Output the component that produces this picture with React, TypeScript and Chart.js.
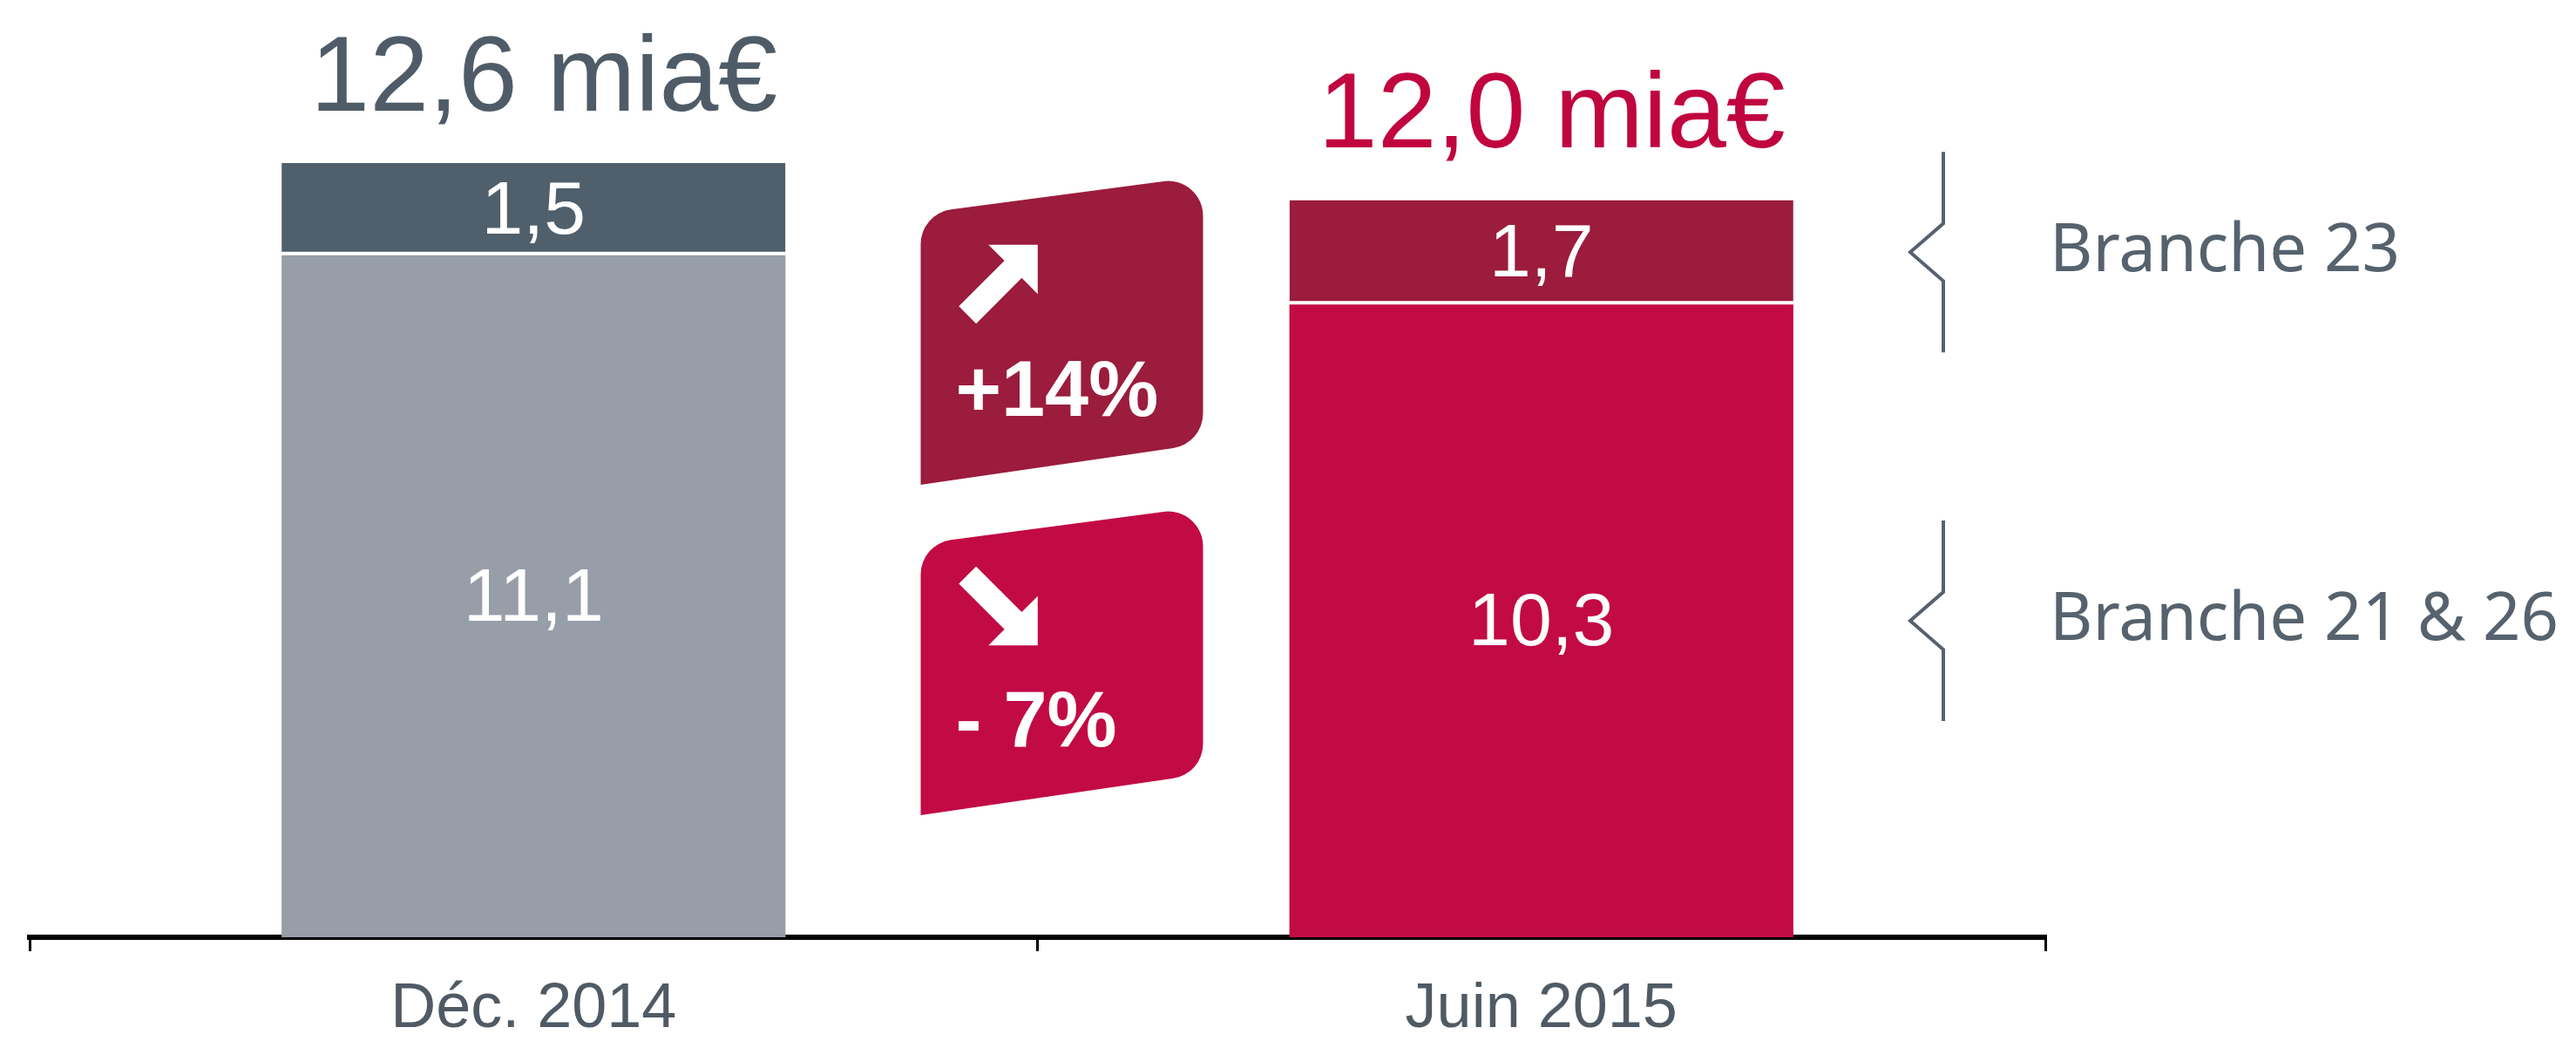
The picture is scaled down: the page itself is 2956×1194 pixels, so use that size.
import React, { useEffect, useRef } from 'react';
import { Chart, registerables } from 'chart.js';

Chart.register(...registerables);

// ---- Data ----
const categories = ['Déc. 2014', 'Juin 2015'];
const seriesLabels = ['Branche 21 & 26', 'Branche 23'];
const branche2126 = [11.1, 10.3];
const branche23 = [1.5, 1.7];
// change between the two dates: [Branche 23, Branche 21 & 26]
const changeLabels = ['+14%', '- 7%'];
const totalUnit = ' mia€';

// ---- Styles ----
const lowerColors = ['#979ea8', '#c20a45'];
const upperColors = ['#4f5f6b', '#9b1c3c'];
const totalColors = ['#4f5c68', '#c0053f'];
const badgeColors = ['#9b1c3c', '#c20a45'];
const textGray = '#4f5a64';
const legendGray = '#56626d';
const SANS = '"Liberation Sans", Arial, Helvetica, sans-serif';
const HUMANIST = '"Noto Sans", "Open Sans", sans-serif';

const fmt = (v: number) => v.toFixed(1).replace('.', ',');

function drawBadge(ctx: CanvasRenderingContext2D, cx: number, cy: number, color: string, up: boolean, text: string) {
  const w = 324;
  const x0 = cx - w / 2;
  const x1 = cx + w / 2;
  const tl = { x: x0, y: cy - 134 };
  const tr = { x: x1, y: cy - 177 };
  const br = { x: x1, y: cy + 130 };
  const bl = { x: x0, y: cy + 177 };
  const r = 40;
  ctx.save();
  ctx.fillStyle = color;
  ctx.beginPath();
  ctx.moveTo(bl.x, bl.y);
  ctx.arcTo(tl.x, tl.y, tr.x, tr.y, r);
  ctx.arcTo(tr.x, tr.y, br.x, br.y, r);
  ctx.arcTo(br.x, br.y, bl.x, bl.y, r);
  ctx.lineTo(bl.x, bl.y);
  ctx.closePath();
  ctx.fill();

  // arrow
  ctx.save();
  ctx.translate(cx - 68, cy - 58);
  ctx.rotate(up ? -Math.PI / 4 : Math.PI / 4);
  const L = 114;
  const hw = 40;
  const st = 14;
  ctx.fillStyle = '#ffffff';
  ctx.beginPath();
  ctx.moveTo(-L / 2, -st);
  ctx.lineTo(L / 2 - hw, -st);
  ctx.lineTo(L / 2 - hw, -hw);
  ctx.lineTo(L / 2, 0);
  ctx.lineTo(L / 2 - hw, hw);
  ctx.lineTo(L / 2 - hw, st);
  ctx.lineTo(-L / 2, st);
  ctx.closePath();
  ctx.fill();
  ctx.restore();

  ctx.fillStyle = '#ffffff';
  ctx.font = `bold 90px ${SANS}`;
  ctx.textAlign = 'left';
  ctx.textBaseline = 'alphabetic';
  ctx.fillText(text, cx - 122, cy + 98);
  ctx.restore();
}

const annotations = {
  id: 'annotations',
  afterDatasetsDraw(chart: any) {
    const ctx: CanvasRenderingContext2D = chart.ctx;
    const area = chart.chartArea;
    const lowerMeta = chart.getDatasetMeta(0);
    const upperMeta = chart.getDatasetMeta(1);
    ctx.save();

    // segment value labels
    ctx.fillStyle = '#ffffff';
    ctx.font = `86px ${SANS}`;
    ctx.textAlign = 'center';
    ctx.textBaseline = 'middle';
    [lowerMeta, upperMeta].forEach((meta: any, di: number) => {
      const vals = di === 0 ? branche2126 : branche23;
      meta.data.forEach((el: any, i: number) => {
        ctx.fillText(fmt(vals[i]), el.x, (el.y + el.base) / 2 + 4);
      });
    });

    // totals above bars
    ctx.font = `122px ${SANS}`;
    ctx.textBaseline = 'alphabetic';
    upperMeta.data.forEach((el: any, i: number) => {
      const total = branche2126[i] + branche23[i];
      ctx.fillStyle = totalColors[i];
      ctx.fillText(fmt(total) + totalUnit, el.x + 12, el.y - 60);
    });

    // change badges between the bars
    const boundary = (lowerMeta.data[0].x + lowerMeta.data[1].x) / 2;
    const h = area.bottom - area.top;
    drawBadge(ctx, boundary + 28, area.top + 0.3415 * h, badgeColors[0], true, changeLabels[0]);
    drawBadge(ctx, boundary + 28, area.top + 0.70 * h, badgeColors[1], false, changeLabels[1]);

    // braces + legend labels next to last bar
    const last = categories.length - 1;
    const lx = area.right - 117;
    const items = [
      { el: upperMeta.data[last], label: seriesLabels[1] },
      { el: lowerMeta.data[last], label: seriesLabels[0] },
    ];
    items.forEach(({ el, label }) => {
      const cy = (el.y + el.base) / 2;
      ctx.strokeStyle = legendGray;
      ctx.lineWidth = 4;
      ctx.beginPath();
      ctx.moveTo(lx, cy - 115);
      ctx.lineTo(lx, cy - 33);
      ctx.lineTo(lx - 38, cy);
      ctx.lineTo(lx, cy + 33);
      ctx.lineTo(lx, cy + 115);
      ctx.stroke();
      ctx.fillStyle = legendGray;
      ctx.font = `76px ${HUMANIST}`;
      ctx.textAlign = 'left';
      ctx.textBaseline = 'middle';
      ctx.fillText(label, area.right + 5, cy);
    });

    ctx.restore();
  },
};

export default function App() {
  const ref = useRef<HTMLCanvasElement | null>(null);
  useEffect(() => {
    if (!ref.current) return;
    const chart = new Chart(ref.current, {
      type: 'bar',
      data: {
        labels: categories,
        datasets: [
          {
            label: seriesLabels[0],
            data: branche2126,
            backgroundColor: lowerColors,
            borderWidth: 0,
            categoryPercentage: 1,
            barPercentage: 0.5,
          },
          {
            label: seriesLabels[1],
            data: branche23,
            backgroundColor: upperColors,
            borderColor: '#ffffff',
            borderWidth: { top: 0, left: 0, right: 0, bottom: 4 },
            borderSkipped: false,
            categoryPercentage: 1,
            barPercentage: 0.5,
          },
        ],
      },
      options: {
        responsive: false,
        animation: false,
        devicePixelRatio: 1,
        layout: { padding: { left: 34, right: 609, top: 18, bottom: 0 } },
        plugins: {
          legend: { display: false },
          tooltip: { enabled: false },
        },
        scales: {
          x: {
            stacked: true,
            grid: {
              display: true,
              drawOnChartArea: false,
              drawTicks: true,
              tickLength: 16,
              color: '#000000',
              lineWidth: 3,
              offset: true,
            },
            border: { display: true, color: '#000000', width: 6 },
            ticks: {
              color: textGray,
              font: { family: SANS, size: 72 },
              padding: 24,
              maxRotation: 0,
            },
            afterFit: (scale: any) => {
              scale.height = 119;
            },
          },
          y: {
            stacked: true,
            display: false,
            min: 0,
            max: 15,
          },
        },
      },
      plugins: [annotations],
    });
    return () => chart.destroy();
  }, []);

  return (
    <div style={{ position: 'absolute', left: 0, top: 0, width: 2956, height: 1194, background: '#ffffff' }}>
      <canvas ref={ref} width={2956} height={1194} style={{ display: 'block', width: 2956, height: 1194 }} />
    </div>
  );
}
